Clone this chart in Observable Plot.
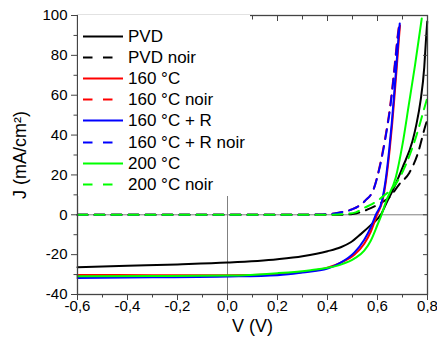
<!DOCTYPE html>
<html>
<head>
<meta charset="utf-8">
<script src="https://cdn.jsdelivr.net/npm/d3@7"></script>
<script src="https://cdn.jsdelivr.net/npm/@observablehq/plot@0.6"></script>
<style>
  html, body { margin: 0; padding: 0; background: #fff; }
  #wrap { position: relative; width: 437px; height: 354px; font-family: "Liberation Sans", Arial, sans-serif; }
  #legend { position: absolute; left: 78px; top: 15px; width: 172px; height: 181px; background: #fff; }
  .row { position: absolute; left: 0; height: 21px; width: 172px; }
  .row svg { position: absolute; left: 5px; top: 0; }
  .row span { position: absolute; left: 50px; top: 0; line-height: 21px; font-size: 17px; color: #000; white-space: nowrap; }
</style>
</head>
<body>
<div id="wrap"></div>
<script>
// ---- data ----
const seriesNames = ["PVD", "PVD noir", "160 °C", "160 °C noir", "160 °C + R", "160 °C + R noir", "200 °C", "200 °C noir"];
const seriesColors = ["#000000", "#000000", "#ff0000", "#ff0000", "#0000ff", "#0000ff", "#00ff00", "#00ff00"];
const seriesDashed = [false, true, false, true, false, true, false, true];

const vPVD = [-0.6, -0.4, -0.2, 0, 0.2, 0.3, 0.4, 0.453, 0.493, 0.533, 0.573, 0.613, 0.64, 0.66, 0.70, 0.74, 0.755, 0.772, 0.787, 0.794, 0.799];
const jPVD = [-26.3, -25.6, -24.9, -24, -22.3, -20.8, -18.3, -16.3, -13.8, -9.7, -5.2, 0, 7, 12, 23.7, 37, 45, 57, 74, 88, 97];

const vPVDnoir = [-0.6, 0.45, 0.5, 0.573, 0.627, 0.647, 0.687, 0.727, 0.76, 0.793, 0.8];
const jPVDnoir = [0, 0, 0.4, 3.3, 7, 8.7, 15.3, 21, 30.3, 45.3, 48];

const v160 = [-0.6, -0.3, 0, 0.2, 0.3, 0.4, 0.453, 0.507, 0.547, 0.573, 0.598, 0.62, 0.634, 0.649, 0.659, 0.667, 0.677, 0.686, 0.69];
const j160 = [-30.2, -30.3, -30.4, -29.9, -28.7, -26.6, -24, -20, -14.5, -8.5, 0, 7, 17, 33, 46, 58, 74, 89, 95];

const v160noir = [-0.6, 0.3, 0.38, 0.427, 0.47, 0.5, 0.55, 0.585, 0.609, 0.631, 0.651, 0.662, 0.671, 0.679, 0.686];
const j160noir = [0, 0, 0.2, 0.7, 1.7, 2.8, 7, 13, 24.5, 38.7, 55, 67, 78, 88, 95];

const v160R = [-0.6, -0.3, 0, 0.2, 0.3, 0.4, 0.453, 0.507, 0.547, 0.573, 0.593, 0.618, 0.632, 0.647, 0.657, 0.665, 0.675, 0.684, 0.689];
const j160R = [-31.7, -31.4, -31, -30.3, -29, -27, -24, -19, -12.5, -6.3, 0, 7, 17, 33, 46, 58, 74, 89, 96];

const v160Rnoir = [-0.6, 0.3, 0.38, 0.427, 0.47, 0.5, 0.55, 0.585, 0.61, 0.632, 0.652, 0.663, 0.672, 0.68, 0.688];
const j160Rnoir = [0, 0, 0.2, 0.7, 1.7, 2.8, 7, 13, 24.5, 38.7, 55, 67, 78, 88, 96];

const v200 = [-0.6, -0.3, 0, 0.2, 0.333, 0.4, 0.453, 0.507, 0.547, 0.573, 0.6, 0.616, 0.635, 0.673, 0.7, 0.725, 0.75, 0.777];
const j200 = [-30.8, -30.7, -30.5, -29.3, -27.8, -26.6, -25, -22, -18, -13, -5, 0, 7, 18.7, 35.3, 55, 75, 98.5];

const v200noir = [-0.6, 0.4, 0.46, 0.513, 0.547, 0.58, 0.625, 0.673, 0.713, 0.753, 0.793, 0.8];
const j200noir = [0, 0, 0.3, 1.2, 3.5, 5.5, 9.5, 15.5, 25, 38.7, 56, 59];

const seriesV = [vPVD, vPVDnoir, v160, v160noir, v160R, v160Rnoir, v200, v200noir];
const seriesJ = [jPVD, jPVDnoir, j160, j160noir, j160R, j160Rnoir, j200, j200noir];

const xMajor = [-0.6, -0.4, -0.2, 0, 0.2, 0.4, 0.6, 0.8];
const xMinor = [-0.5, -0.3, -0.1, 0.1, 0.3, 0.5, 0.7];
const yMajor = [-40, -20, 0, 20, 40, 60, 80, 100];
const yMinor = [-30, -10, 10, 30, 50, 70, 90];

// ---- build ----
const fmtX = d => (d < -1e-9 ? "-" : "") + Math.abs(d).toFixed(1).replace(".", ",");
const fmtY = d => (d < 0 ? "-" : "") + Math.abs(d);

const lineMarks = seriesNames.map((name, i) => {
  const rows = seriesV[i].map((v, k) => ({V: v, J: seriesJ[i][k]}));
  return Plot.line(rows, {
    x: "V", y: "J", stroke: seriesColors[i], strokeWidth: 2,
    strokeDasharray: seriesDashed[i] ? "10,7" : null,
    curve: "monotone-x"
  });
});

const axisColor = "#444";
const chart = Plot.plot({
  width: 437, height: 354,
  marginLeft: 77, marginRight: 10, marginTop: 15, marginBottom: 60,
  x: {domain: [-0.6, 0.8]},
  y: {domain: [-40, 100]},
  style: {fontFamily: "'Liberation Sans', Arial, sans-serif", color: "#000", background: "#fff", overflow: "visible"},
  marks: [
    Plot.ruleX([0], {stroke: "#808080", strokeWidth: 1}),
    Plot.ruleY([0], {stroke: "#808080", strokeWidth: 1}),
    ...lineMarks,
    Plot.frame({stroke: axisColor, strokeWidth: 1.3}),
    Plot.axisX({ticks: xMajor, tickSize: 6, tickPadding: 0, tickFormat: fmtX, fontSize: 15, label: null, stroke: axisColor, fill: "#000"}),
    Plot.axisX({ticks: xMinor, tickSize: 3.5, text: null, label: null, stroke: axisColor}),
    Plot.axisX({ticks: [], tickSize: 0, label: "V (V)", labelAnchor: "center", labelArrow: "none", labelOffset: 37, fontSize: 18, fill: "#000"}),
    Plot.axisX({anchor: "top", ticks: xMajor, tickSize: -5, text: null, label: null, stroke: axisColor}),
    Plot.axisX({anchor: "top", ticks: xMinor, tickSize: -3.5, text: null, label: null, stroke: axisColor}),
    Plot.axisY({ticks: yMajor, tickSize: 6, tickPadding: 4, tickFormat: fmtY, fontSize: 15, label: null, stroke: axisColor, fill: "#000"}),
    Plot.axisY({ticks: yMinor, tickSize: 3.5, text: null, label: null, stroke: axisColor}),
    Plot.axisY({ticks: [], tickSize: 0, label: "J (mA/cm²)", labelAnchor: "center", labelArrow: "none", labelOffset: 64, fontSize: 18, fill: "#000"}),
    Plot.axisY({anchor: "right", ticks: yMajor, tickSize: -5, text: null, label: null, stroke: axisColor}),
    Plot.axisY({anchor: "right", ticks: yMinor, tickSize: -3.5, text: null, label: null, stroke: axisColor})
  ]
});

const wrap = document.getElementById("wrap");
wrap.appendChild(chart);

// legend overlay (white box covering the upper-left part of the frame)
const legend = document.createElement("div");
legend.id = "legend";
seriesNames.forEach((name, i) => {
  const row = document.createElement("div");
  row.className = "row";
  row.style.top = (10.5 + i * 21.2) + "px";
  const dash = seriesDashed[i] ? ' stroke-dasharray="9.5,10.5"' : "";
  row.innerHTML = `<svg width="40" height="21"><line x1="0" x2="40" y1="10.5" y2="10.5" stroke="${seriesColors[i]}" stroke-width="2"${dash}/></svg><span>${name}</span>`;
  legend.appendChild(row);
});
wrap.appendChild(legend);
</script>
</body>
</html>
